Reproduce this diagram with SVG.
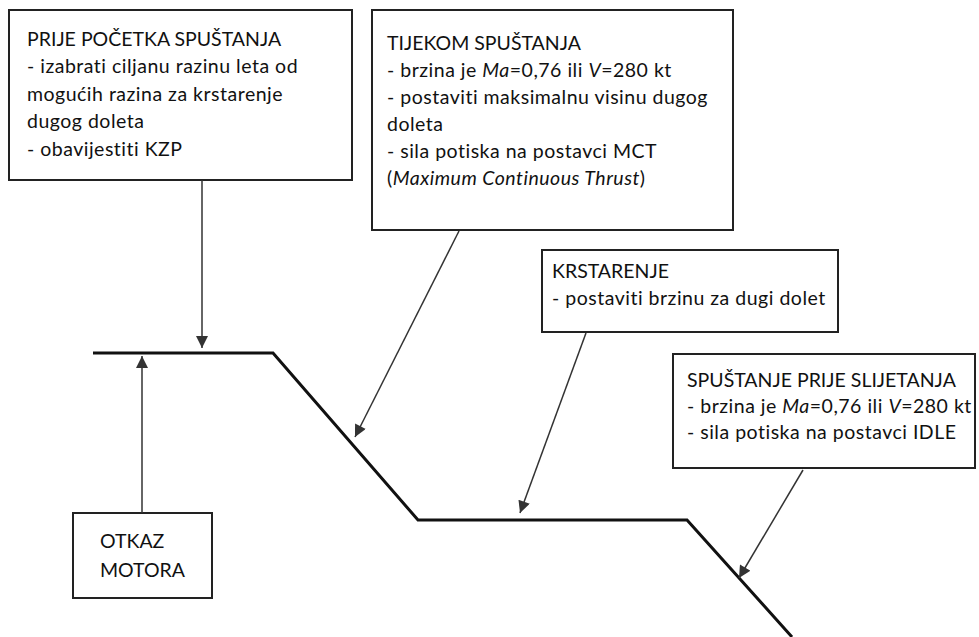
<svg xmlns="http://www.w3.org/2000/svg" width="979" height="637" viewBox="0 0 979 637">
<defs>
<style>
.box{fill:#fff;stroke:#222;stroke-width:2}
.t{font-family:Lato,"Liberation Sans",Arial,sans-serif;font-size:19.5px;fill:#111}
.lc{letter-spacing:0.5px}
.i{font-style:italic}
.conn{stroke:#333;stroke-width:1.5;fill:none;marker-end:url(#ah)}
.path{stroke:#111;stroke-width:3;fill:none;stroke-linejoin:miter}
</style>
<marker id="ah" viewBox="0 0 10 10" refX="10" refY="5" markerWidth="13" markerHeight="12" markerUnits="userSpaceOnUse" orient="auto">
<path d="M0,0 L10,5 L0,10 z" fill="#333"/>
</marker>
</defs>
<rect width="979" height="637" fill="#fff"/>
<g id="flightpath">
<polyline class="path" points="93,353 273,353 418,520 687,520 792,637"/>
</g>
<g id="n1">
<rect class="box" x="9" y="10" width="343" height="170"/>
<text class="t" x="27" y="46">PRIJE POČETKA SPUŠTANJA</text>
<text class="t lc" x="27" y="73">- izabrati ciljanu razinu leta od</text>
<text class="t lc" x="27" y="101">mogućih razina za krstarenje</text>
<text class="t lc" x="27" y="128">dugog doleta</text>
<text class="t lc" x="27" y="156">- obavijestiti KZP</text>
</g>
<g id="n2">
<rect class="box" x="372" y="10" width="361" height="220"/>
<text class="t" x="387" y="50">TIJEKOM SPUŠTANJA</text>
<text class="t lc" x="387" y="77">- brzina je <tspan class="i">Ma</tspan>=0,76 ili <tspan class="i">V</tspan>=280 kt</text>
<text class="t lc" x="387" y="104">- postaviti maksimalnu visinu dugog</text>
<text class="t lc" x="387" y="131">doleta</text>
<text class="t lc" x="387" y="158">- sila potiska na postavci MCT</text>
<text class="t lc" x="387" y="185">(<tspan class="i">Maximum Continuous Thrust</tspan>)</text>
</g>
<g id="n3">
<rect class="box" x="542" y="250" width="296" height="82"/>
<text class="t" x="552" y="278">KRSTARENJE</text>
<text class="t lc" x="552" y="305">- postaviti brzinu za dugi dolet</text>
</g>
<g id="n4">
<rect class="box" x="673" y="354" width="302" height="114"/>
<text class="t" x="687" y="387">SPUŠTANJE PRIJE SLIJETANJA</text>
<text class="t lc" x="687" y="413">- brzina je <tspan class="i">Ma</tspan>=0,76 ili <tspan class="i">V</tspan>=280 kt</text>
<text class="t lc" x="687" y="439">- sila potiska na postavci IDLE</text>
</g>
<g id="n5">
<rect class="box" x="73" y="513" width="139" height="85"/>
<text class="t" x="100" y="548">OTKAZ</text>
<text class="t" x="100" y="577">MOTORA</text>
</g>
<g id="connectors">
<line class="conn" x1="202" y1="180" x2="202" y2="348"/>
<line class="conn" x1="142" y1="513" x2="142" y2="356"/>
<line class="conn" x1="459" y1="231" x2="355" y2="437"/>
<line class="conn" x1="586" y1="333" x2="520" y2="513"/>
<line class="conn" x1="803" y1="470" x2="739" y2="578"/>
</g>
</svg>
